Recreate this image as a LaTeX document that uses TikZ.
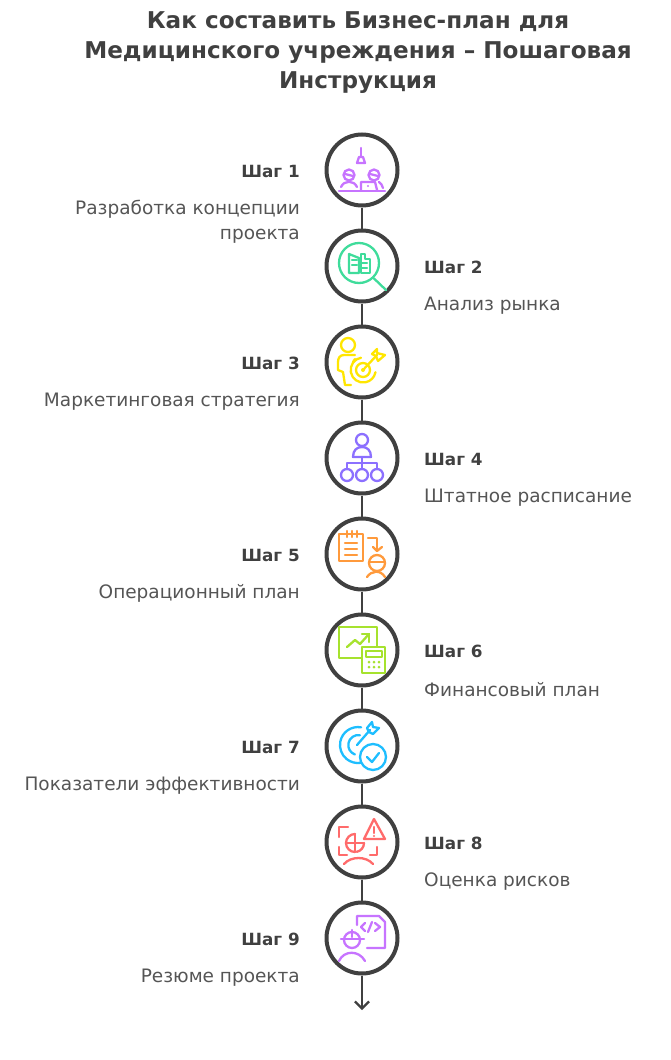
\documentclass[tikz,border=0pt]{standalone}
\usepackage{fontspec}
\setmainfont{DejaVu Sans}
\usetikzlibrary{arrows.meta}
\definecolor{ink}{HTML}{404040}
\definecolor{bodyink}{HTML}{555555}
\definecolor{plum}{HTML}{C774FF}
\definecolor{mint}{HTML}{3FDC9B}
\definecolor{sun}{HTML}{FFE600}
\definecolor{violet}{HTML}{8C70FF}
\definecolor{tangerine}{HTML}{FF9A3C}
\definecolor{lime}{HTML}{A6E22E}
\definecolor{sky}{HTML}{1EBEFF}
\definecolor{coral}{HTML}{FF6B6B}

\begin{document}
\begin{tikzpicture}[x=1pt,y=-1pt,
	stepnode/.style={draw=ink,circle,fill=white,line width=4pt,inner sep=0pt,minimum size=71pt},
	link/.style={draw=ink,line width=2.3pt},
	head/.style={font=\fontsize{16.8}{22}\selectfont\bfseries,text=ink,inner sep=0pt},
	body/.style={font=\fontsize{18.5}{24.5}\selectfont,text=bodyink,inner sep=0pt},
	icon/.style={line width=2.3pt,line cap=round,line join=round}]
	\useasboundingbox (0,0) rectangle (670,1060);

	\node[align=center,text=ink,inner sep=0pt,font=\fontsize{23.1}{30}\selectfont\bfseries] (title) at (358,53) {Как составить Бизнес-план для\\Медицинского учреждения -- Пошаговая\\Инструкция};

	\node[stepnode] (S1) at (362,170) {};
	\node[stepnode] (S2) at (362,266) {};
	\node[stepnode] (S3) at (362,362) {};
	\node[stepnode] (S4) at (362,458) {};
	\node[stepnode] (S5) at (362,554) {};
	\node[stepnode] (S6) at (362,650) {};
	\node[stepnode] (S7) at (362,746) {};
	\node[stepnode] (S8) at (362,842) {};
	\node[stepnode] (S9) at (362,938) {};
	\coordinate (E) at (362,1010);

	\draw[link] (S1) -- (S2);
	\draw[link] (S2) -- (S3);
	\draw[link] (S3) -- (S4);
	\draw[link] (S4) -- (S5);
	\draw[link] (S5) -- (S6);
	\draw[link] (S6) -- (S7);
	\draw[link] (S7) -- (S8);
	\draw[link] (S8) -- (S9);
	\draw[link,-{Straight Barb[length=7pt,width=14pt]}] (S9) -- (E);

	\node[head,anchor=east] (H1) at (300,171) {Шаг 1};
	\node[head,anchor=west] (H2) at (424,267) {Шаг 2};
	\node[head,anchor=east] (H3) at (300,363) {Шаг 3};
	\node[head,anchor=west] (H4) at (424,459) {Шаг 4};
	\node[head,anchor=east] (H5) at (300,555) {Шаг 5};
	\node[head,anchor=west] (H6) at (424,651) {Шаг 6};
	\node[head,anchor=east] (H7) at (300,747) {Шаг 7};
	\node[head,anchor=west] (H8) at (424,843) {Шаг 8};
	\node[head,anchor=east] (H9) at (300,939) {Шаг 9};

	\node[body,anchor=east,align=right] (T1) at (300,221.5) {Разработка концепции\\проекта};
	\node[body,anchor=west] (T2) at (424,305.5) {Анализ рынка};
	\node[body,anchor=east] (T3) at (300,401.5) {Маркетинговая стратегия};
	\node[body,anchor=west] (T4) at (424,497.5) {Штатное расписание};
	\node[body,anchor=east] (T5) at (300,593.5) {Операционный план};
	\node[body,anchor=west] (T6) at (424,689.5) {Финансовый план};
	\node[body,anchor=east] (T7) at (300,785.5) {Показатели эффективности};
	\node[body,anchor=west] (T8) at (424,881.5) {Оценка рисков};
	\node[body,anchor=east] (T9) at (300,977.5) {Резюме проекта};

	\begin{scope}[shift={(S1.center)},icon,draw=plum]
		\draw (-1,-22) -- (-1,-13);
		\draw (-3,-13) -- (1,-13) -- (3,-7) -- (-5,-7) -- cycle;
		\draw (-13,5) circle (5.5);
		\draw (12,5) circle (5.5);
		\draw (-17,4) -- (-9,6);
		\draw (8,4) -- (16,6);
		\draw (-21,17) .. controls (-18,10) and (-8,10) .. (-5,17);
		\draw (17,12) .. controls (19,13) and (20,15) .. (21,18);
		\draw (-1,20) -- (-1,12) -- (13,12) -- (15,20);
		\fill[plum] (6,16) circle (1.2);
		\draw[line width=2.6pt] (-23,21) -- (23,21);
	\end{scope}

	\begin{scope}[shift={(S2.center)},icon,draw=mint]
		\draw (-3,-3) circle (20);
		\draw (12,12.5) -- (24,24);
		\draw (-13,-12) -- (-3,-8) -- (-3,7) -- (-13,7) -- cycle;
		\draw (-1,7) -- (-1,-12) -- (3,-12) -- (3,-7) -- (8,-7) -- (8,7) -- cycle;
		\draw (-10,-6) -- (-5,-6);
		\draw (-10,-1) -- (-5,-1);
		\draw (-1,-3) -- (5,-3);
		\draw (-1,2) -- (5,2);
	\end{scope}

	\begin{scope}[shift={(S3.center)},icon,draw=sun]
		\draw (-14,-17) circle (7);
		\draw (-7,-7) -- (-18,-7) .. controls (-22,-7) and (-24,-4) .. (-24,0) -- (-24,8) -- (-19,10) -- (-17,23) -- (-11,23);
		\draw (-7,-3) -- (-9,0);
		\draw (-1,-4.3) arc[start angle=-100,end angle=-350,radius=12.5];
		\draw (1,8) circle (7);
		\fill[sun] (1,8) circle (2);
		\draw (1,8) -- (15,-7);
		\draw (10,-8) -- (15,-13) -- (15,-9) -- (23,-7) -- (16,-1) -- (14,-6) -- cycle;
	\end{scope}

	\begin{scope}[shift={(S4.center)},icon,draw=violet]
		\draw (0,-18) circle (6);
		\draw (-9,-1) .. controls (-9,-8) and (-5,-11) .. (0,-11) .. controls (5,-11) and (9,-8) .. (9,-1) -- cycle;
		\draw (0,-1) -- (0,11);
		\draw (-15,11) -- (-15,5) -- (15,5) -- (15,11);
		\draw (-15,17) circle (6);
		\draw (0,17) circle (6);
		\draw (15,17) circle (6);
	\end{scope}

	\begin{scope}[shift={(S5.center)},icon,draw=tangerine]
		\draw (-23,-20) rectangle (1,7);
		\draw (-15,-23) -- (-15,-17);
		\draw (-10,-23) -- (-10,-17);
		\draw (-5,-23) -- (-5,-17);
		\draw (-17,-11) -- (-5,-11);
		\draw (-17,-5) -- (-5,-5);
		\draw (-17,1) -- (-5,1);
		\draw (6,-16) -- (15,-16) -- (15,-4);
		\draw (11,-7) -- (15,-3) -- (20,-7);
		\draw (15,9) circle (8);
		\draw (7,8) -- (22,8);
		\draw (5,23) .. controls (9,17) and (18,15) .. (23,23);
	\end{scope}

	\begin{scope}[shift={(S6.center)},icon,draw=lime]
		\draw (-23,-23) rectangle (15,8);
		\draw (-15,-3) -- (-7,-10) -- (-2,-6) -- (7,-16);
		\draw (0,-16) -- (7,-16) -- (7,-8);
		\draw[fill=white] (0,-3) rectangle (23,23);
		\draw (4,1) rectangle (20,7);
		\fill[lime] (7,12) circle (1.5);
		\fill[lime] (12,12) circle (1.5);
		\fill[lime] (17,12) circle (1.5);
		\fill[lime] (7,17) circle (1.5);
		\fill[lime] (12,17) circle (1.5);
		\fill[lime] (17,17) circle (1.5);
	\end{scope}

	\begin{scope}[shift={(S7.center)},icon,draw=sky]
		\draw (-0.9,-18.7) arc[start angle=-80,end angle=-280,radius=18];
		\draw (-2,-10.8) arc[start angle=-80,end angle=-250,radius=10];
		\draw (-5,-1) -- (8,-16);
		\draw (5,-18) -- (10,-24) -- (11,-19) -- (17,-18) -- (11,-12) -- (7,-14) -- cycle;
		\draw[fill=white] (11,11) circle (13);
		\draw (5,11) -- (10,16) -- (17,7);
	\end{scope}

	\begin{scope}[shift={(S8.center)},icon,draw=coral]
		\draw (-14,-15) -- (-23,-15) -- (-23,-5);
		\draw (-23,5) -- (-23,13) -- (-15,13);
		\draw (15,5) -- (15,13) -- (8,13);
		\draw (-7,-8) arc[start angle=-90,end angle=-270,radius=9];
		\draw (-7,-8) -- (-7,10);
		\draw (-16,1) -- (2,1);
		\draw (2,1) arc[start angle=0,end angle=80,radius=9];
		\draw (12,-23) -- (23,-3) -- (2,-3) -- cycle;
		\draw (12,-15) -- (12,-9);
		\fill[coral] (12,-6) circle (1.2);
		\draw (-18,22) .. controls (-11,14) and (4,14) .. (11,22);
	\end{scope}

	\begin{scope}[shift={(S9.center)},icon,draw=plum]
		\draw (-5,-13) -- (-5,-22) -- (17,-22) -- (23,-16) -- (23,10) -- (5,10);
		\draw (3,-15) -- (-1,-11) -- (3,-7);
		\draw (10,-16) -- (6,-6);
		\draw (13,-15) -- (18,-11) -- (13,-7);
		\draw (-10,2) circle (8);
		\draw (-21,1) -- (2,1);
		\draw (-10,-8) -- (-10,-1);
		\draw (-23,23) .. controls (-18,12) and (-3,12) .. (3,23);
	\end{scope}

\end{tikzpicture}
\end{document}
